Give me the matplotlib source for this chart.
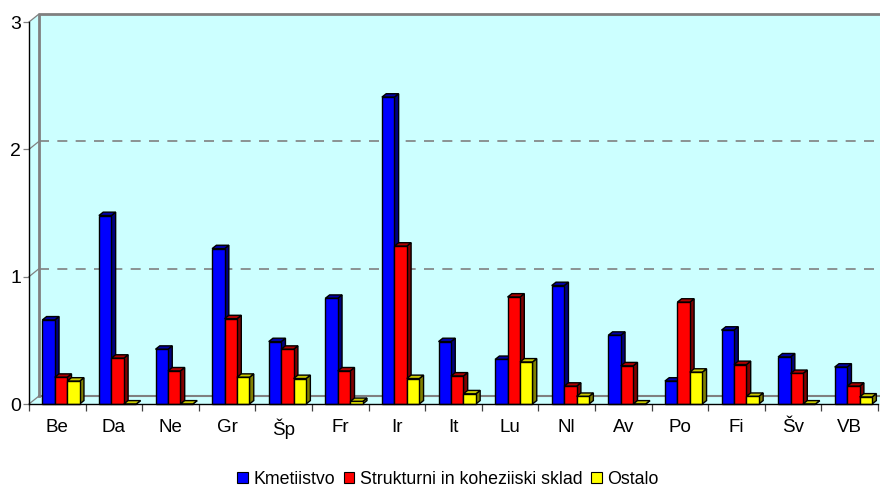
import matplotlib
matplotlib.use("Agg")
import matplotlib.pyplot as plt
from matplotlib.patches import Polygon, Patch
from matplotlib.lines import Line2D
import numpy as np

plt.rcParams['font.family'] = ['Liberation Sans', 'DejaVu Sans']

countries = ["Be", "Da", "Ne", "Gr", "Šp", "Fr", "Ir", "It", "Lu", "Nl",
             "Av", "Po", "Fi", "Šv", "VB"]
series_names = ["Kmetiistvo", "Strukturni in koheziiski sklad", "Ostalo"]
kmetijstvo = [0.66, 1.48, 0.43, 1.22, 0.49, 0.83, 2.41, 0.49, 0.35, 0.93,
              0.54, 0.18, 0.58, 0.37, 0.29]
strukturni = [0.21, 0.36, 0.26, 0.67, 0.43, 0.26, 1.24, 0.22, 0.84, 0.14,
              0.30, 0.80, 0.31, 0.24, 0.14]
ostalo = [0.18, 0.00, 0.00, 0.21, 0.20, 0.02, 0.20, 0.08, 0.33, 0.06,
          0.00, 0.25, 0.06, 0.00, 0.055]
y_ticks = [0, 1, 2, 3]

series = [kmetijstvo, strukturni, ostalo]
front_cols = ["#0000FF", "#FF0000", "#FFFF00"]
side_cols = ["#000080", "#800000", "#808000"]
top_cols = ["#0000A8", "#B00000", "#C8C800"]

W, H, DPI = 880, 486, 100
fig = plt.figure(figsize=(W / DPI, H / DPI), dpi=DPI)
x_left, x_right, y_bot, y_top = 29, 878, 404, 22
ax = fig.add_axes([x_left / W, (H - y_bot) / H,
                   (x_right - x_left) / W, (y_bot - y_top) / H])
n = len(countries)
ax.set_xlim(-0.5, n - 0.5)
ax.set_ylim(0, 3)
ax.set_facecolor("none")

px_x = (x_right - x_left) / n        # pixels per category
px_y = (y_bot - y_top) / 3.0         # pixels per value unit

# depth of the walls and of the bars, converted to data units
wdx, wdy = 10 / px_x, 8 / px_y
bdx, bdy = 4.3 / px_x, 3.4 / px_y

wall = "#CCFFFF"
grey = "#808080"
x0, x1 = -0.5, n - 0.5

# floor, side wall and back wall
ax.add_patch(Polygon([(x0, 0), (x1 + wdx, 0), (x1 + wdx, wdy), (x0 + wdx, wdy)],
                     closed=True, fc=wall, ec="none", zorder=0, clip_on=False))
ax.add_patch(Polygon([(x0, 0), (x0 + wdx, wdy), (x0 + wdx, 3 + wdy), (x0, 3)],
                     closed=True, fc=wall, ec="none", zorder=0, clip_on=False))
ax.add_patch(Polygon([(x0 + wdx, wdy), (x1 + wdx, wdy), (x1 + wdx, 3 + wdy),
                      (x0 + wdx, 3 + wdy)],
                     closed=True, fc=wall, ec="none", zorder=0, clip_on=False))

# gridlines on the back wall and their links to the front axis
for v in y_ticks:
    ax.add_line(Line2D([x0, x0 + wdx], [v, v + wdy], color=grey, lw=0.9,
                       zorder=1, clip_on=False))
    if v in (1, 2):
        ax.add_line(Line2D([x0 + wdx, x1 + wdx], [v + wdy, v + wdy], color=grey,
                           lw=1.2, ls=(0, (6, 5)), zorder=1, clip_on=False))
ax.add_line(Line2D([x0 + wdx, x1 + wdx], [wdy, wdy], color=grey, lw=1.5,
                   zorder=1, clip_on=False))
ax.add_line(Line2D([x0 + wdx, x0 + wdx, x1 + wdx], [wdy, 3 + wdy, 3 + wdy],
                   color=grey, lw=2.0, zorder=1, clip_on=False))

# 3D-looking bars
bw = 0.22
start = 0.235
xs = np.arange(n)
z = 2
for c in range(n):
    for s in range(3):
        left = xs[c] - 0.5 + start + s * bw
        v = series[s][c]
        ax.bar(left, v, width=bw, align="edge", color=front_cols[s],
               edgecolor="black", linewidth=1.0, zorder=z + 0.1, clip_on=False)
        ax.add_patch(Polygon([(left + bw, 0), (left + bw + bdx, bdy),
                              (left + bw + bdx, v + bdy), (left + bw, v)],
                             closed=True, fc=side_cols[s], ec="black", lw=1.0,
                             zorder=z, clip_on=False))
        ax.add_patch(Polygon([(left, v), (left + bw, v), (left + bw + bdx, v + bdy),
                              (left + bdx, v + bdy)],
                             closed=True, fc=top_cols[s], ec="black", lw=1.0,
                             zorder=z, clip_on=False))
        z += 1

# axes
for side in ("top", "right"):
    ax.spines[side].set_visible(False)
for side in ("left", "bottom"):
    ax.spines[side].set_color("black")
    ax.spines[side].set_zorder(200)
    ax.spines[side].set_linewidth(1.0)

ax.set_yticks(y_ticks)
ax.set_yticklabels([str(t) for t in y_ticks], fontsize=14)
ax.tick_params(axis="y", length=4, width=0.9, color=grey, pad=1.5)

ax.set_xticks(xs)
ax.set_xticklabels(countries, fontsize=13.5)
ax.set_xticks(np.arange(n + 1) - 0.5, minor=True)
ax.tick_params(axis="x", which="major", length=0, pad=10.5)
ax.tick_params(axis="x", which="minor", length=5, width=0.9, color="#404040")

handles = [Patch(facecolor=front_cols[i], edgecolor="black", linewidth=0.8)
           for i in range(3)]
fig.legend(handles, series_names, loc="center", bbox_to_anchor=(0.509, 7 / H),
           ncol=3, frameon=False, fontsize=12.8, handlelength=0.6,
           handleheight=0.6, handletextpad=0.3, columnspacing=0.5,
           borderpad=0)

fig.savefig("out.png", dpi=DPI)
